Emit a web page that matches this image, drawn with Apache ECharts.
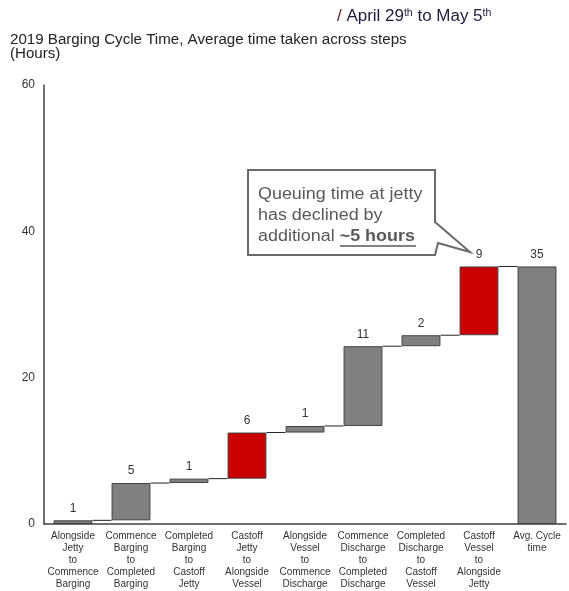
<!DOCTYPE html>
<html>
<head>
<meta charset="utf-8">
<script src="https://cdn.jsdelivr.net/npm/echarts@6/dist/echarts.min.js"></script>
<style>
  html, body { margin: 0; padding: 0; background: #fff; }
  #main { width: 569px; height: 591px; }
</style>
</head>
<body>
<div id="main"></div>
<script>
  // steps of the barging cycle (hours)
  var categories = [
    'Alongside\nJetty\nto\nCommence\nBarging',
    'Commence\nBarging\nto\nCompleted\nBarging',
    'Completed\nBarging\nto\nCastoff\nJetty',
    'Castoff\nJetty\nto\nAlongside\nVessel',
    'Alongside\nVessel\nto\nCommence\nDischarge',
    'Commence\nDischarge\nto\nCompleted\nDischarge',
    'Completed\nDischarge\nto\nCastoff\nVessel',
    'Castoff\nVessel\nto\nAlongside\nJetty',
    'Avg. Cycle\ntime'
  ]
  var stepHours = [0.5, 5.1, 0.6, 6.3, 0.9, 10.9, 1.5, 9.4]
  var redSteps = [3, 7] // highlighted (queuing) steps
  var yTicks = [0, 20, 40, 60]

  var base = []
  var heights = []
  var running = 0
  stepHours.forEach(function (v) {
    base.push(running)
    heights.push(v)
    running += v
  })
  var total = running
  base.push(0)
  heights.push(total)

  // connector lines: level at the end of each bar
  var connectors = []
  for (var i = 0; i < categories.length - 1; i++) {
    connectors.push([i, base[i] + heights[i]])
  }

  var chart = echarts.init(document.getElementById('main'))
  var option = {
    animation: false,
    textStyle: { fontFamily: 'Liberation Sans, Arial, sans-serif' },
    grid: { left: 44, right: 3, top: 85, bottom: 67 },
    xAxis: {
      type: 'category',
      data: categories,
      axisLine: { lineStyle: { color: '#404040', width: 1.5 } },
      axisTick: { show: false },
      axisLabel: {
        interval: 0,
        fontSize: 10,
        lineHeight: 12,
        color: '#333',
        margin: 6
      }
    },
    yAxis: {
      type: 'value',
      min: yTicks[0],
      max: yTicks[yTicks.length - 1],
      interval: 20,
      splitLine: { show: false },
      axisLine: { show: true, lineStyle: { color: '#404040', width: 1.5 } },
      axisTick: { show: false },
      axisLabel: { fontSize: 12, color: '#333', margin: 9 }
    },
    series: [
      {
        name: 'base',
        type: 'bar',
        stack: 'wf',
        barWidth: '67%',
        itemStyle: { color: 'transparent' },
        silent: true,
        data: base
      },
      {
        name: 'hours',
        type: 'bar',
        stack: 'wf',
        barWidth: '67%',
        data: heights.map(function (v, idx) {
          return {
            value: v,
            itemStyle: {
              color: redSteps.indexOf(idx) >= 0 ? '#cc0000' : '#808080',
              borderColor: '#404040',
              borderWidth: 1
            }
          }
        }),
        label: {
          show: true,
          position: 'top',
          distance: 6,
          fontSize: 12,
          color: '#333',
          formatter: function (p) { return Math.round(p.value) }
        }
      },
      {
        type: 'custom',
        silent: true,
        z: 1,
        data: connectors,
        renderItem: function (params, api) {
          var idx = api.value(0)
          var lvl = api.value(1)
          var band = api.size([1, 0])[0]
          var half = band * 0.67 / 2
          var p1 = api.coord([idx, lvl])
          var p2 = api.coord([idx + 1, lvl])
          return {
            type: 'line',
            shape: { x1: p1[0] + half, y1: p1[1], x2: p2[0] - half, y2: p2[1] },
            style: { stroke: '#222', lineWidth: 1 }
          }
        }
      }
    ],
    graphic: [
      {
        type: 'text',
        x: 337,
        y: 8,
        scaleX: 1.06,
        style: {
          text: '{s|/} April 29{sup|th} to May 5{sup|th}',
          fontSize: 16,
          verticalAlign: 'top',
          fill: '#1c1c3c',
          rich: {
            s: { fontSize: 16, fill: '#6a2020' },
            sup: { fontSize: 10, verticalAlign: 'top', padding: [0, 0, 7, 0] }
          }
        }
      },
      {
        type: 'text',
        x: 10,
        y: 33,
        scaleX: 1.08,
        style: {
          text: '2019 Barging Cycle Time, Average time taken across steps\n(Hours)',
          fontSize: 14,
          lineHeight: 14,
          verticalAlign: 'top',
          fill: '#222'
        }
      },
      {
        type: 'polygon',
        shape: {
          points: [[248, 170], [435, 170], [435, 222], [470, 252], [438, 243], [435, 255], [248, 255]]
        },
        style: { fill: '#fff', stroke: '#6a6a6a', lineWidth: 2 }
      },
      {
        type: 'text',
        x: 258,
        y: 184,
        scaleX: 1.12,
        style: {
          text: 'Queuing time at jetty\nhas declined by\nadditional {b|~5 hours}',
          fontSize: 16,
          lineHeight: 21,
          verticalAlign: 'top',
          fill: '#595959',
          rich: { b: { fontSize: 16, fontWeight: 'bold', fill: '#595959' } }
        }
      },
      {
        type: 'line',
        shape: { x1: 340, y1: 246, x2: 416, y2: 246 },
        style: { stroke: '#595959', lineWidth: 1.5 }
      }
    ]
  }
  chart.setOption(option)
</script>
</body>
</html>
